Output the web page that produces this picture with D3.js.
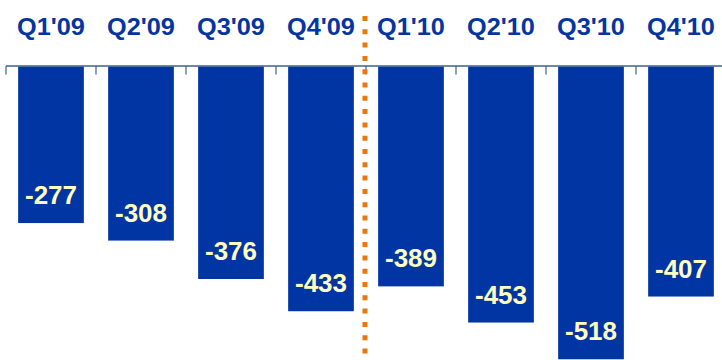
<!DOCTYPE html>
<html>
<head>
<meta charset="utf-8">
<script src="https://cdn.jsdelivr.net/npm/d3@7/dist/d3.min.js"></script>
<style>
  html, body { margin: 0; padding: 0; background: #ffffff; }
  svg { display: block; }
</style>
</head>
<body>
<svg id="chart" width="722" height="360"></svg>
<script>
// Quarterly results (negative values hang below the zero line)
const quarters = ["Q1'09", "Q2'09", "Q3'09", "Q4'09", "Q1'10", "Q2'10", "Q3'10", "Q4'10"];
const values = [-277, -308, -376, -433, -389, -453, -518, -407];
// The year divider sits between these two quarters
const dividerAfter = "Q4'09";

const W = 722, H = 360;
const barColor = "#0035a3";
const labelColor = "#ffffc4";
const catColor = "#0535a0";
const axisColor = "#3d5f93";
const dividerColor = "#e5780f";

const svg = d3.select("#chart");

const x = d3.scaleBand()
  .domain(quarters)
  .range([6, 726])
  .paddingInner(0.27)
  .paddingOuter(0.135);

const y = d3.scaleLinear()
  .domain([0, -520])
  .range([66.5, 66.5 + 520 * 0.5652]);

// Bars hanging from zero
svg.append("g")
  .selectAll("rect")
  .data(values)
  .join("rect")
  .attr("x", (d, i) => x(quarters[i]))
  .attr("y", y(0))
  .attr("width", x.bandwidth())
  .attr("height", d => y(d) - y(0))
  .attr("fill", barColor);

// Zero line with boundary ticks between quarters
const step = x.step();
const bounds = quarters.map(q => x(q) - x.paddingInner() * step / 2);
const axis = svg.append("g").attr("stroke", axisColor).attr("fill", "none");
axis.append("line")
  .attr("x1", 6).attr("x2", W)
  .attr("y1", y(0) - 0.5).attr("y2", y(0) - 0.5)
  .attr("stroke-width", 1.5);
axis.selectAll("line.tick")
  .data(bounds)
  .join("line")
  .attr("class", "tick")
  .attr("x1", d => d).attr("x2", d => d)
  .attr("y1", y(0) - 0.5).attr("y2", y(0) + 8)
  .attr("stroke-width", 1.2);

// Value labels near the bottom of each bar
svg.append("g")
  .selectAll("text")
  .data(values)
  .join("text")
  .attr("x", (d, i) => x(quarters[i]) + x.bandwidth() / 2)
  .attr("y", d => y(d) - 19)
  .attr("text-anchor", "middle")
  .attr("font-family", "'Liberation Sans', Arial, sans-serif")
  .attr("font-weight", "bold")
  .attr("font-size", 26)
  .attr("fill", labelColor)
  .text(d => d);

// Quarter names along the top
svg.append("g")
  .selectAll("text")
  .data(quarters)
  .join("text")
  .attr("transform", q => `translate(${x(q) + x.bandwidth() / 2},34.5) scale(1.1,1)`)
  .attr("text-anchor", "middle")
  .attr("font-family", "'Liberation Sans', Arial, sans-serif")
  .attr("font-weight", "bold")
  .attr("font-size", 23)
  .attr("fill", catColor)
  .text(q => q);

// Dotted divider between the two years
const divX = x(dividerAfter) + x.bandwidth() + x.paddingInner() * step / 2;
svg.append("line")
  .attr("x1", divX - 1).attr("x2", divX - 1)
  .attr("y1", 16).attr("y2", H)
  .attr("stroke", dividerColor)
  .attr("stroke-width", 5)
  .attr("stroke-dasharray", "5,8.3");
</script>
</body>
</html>
